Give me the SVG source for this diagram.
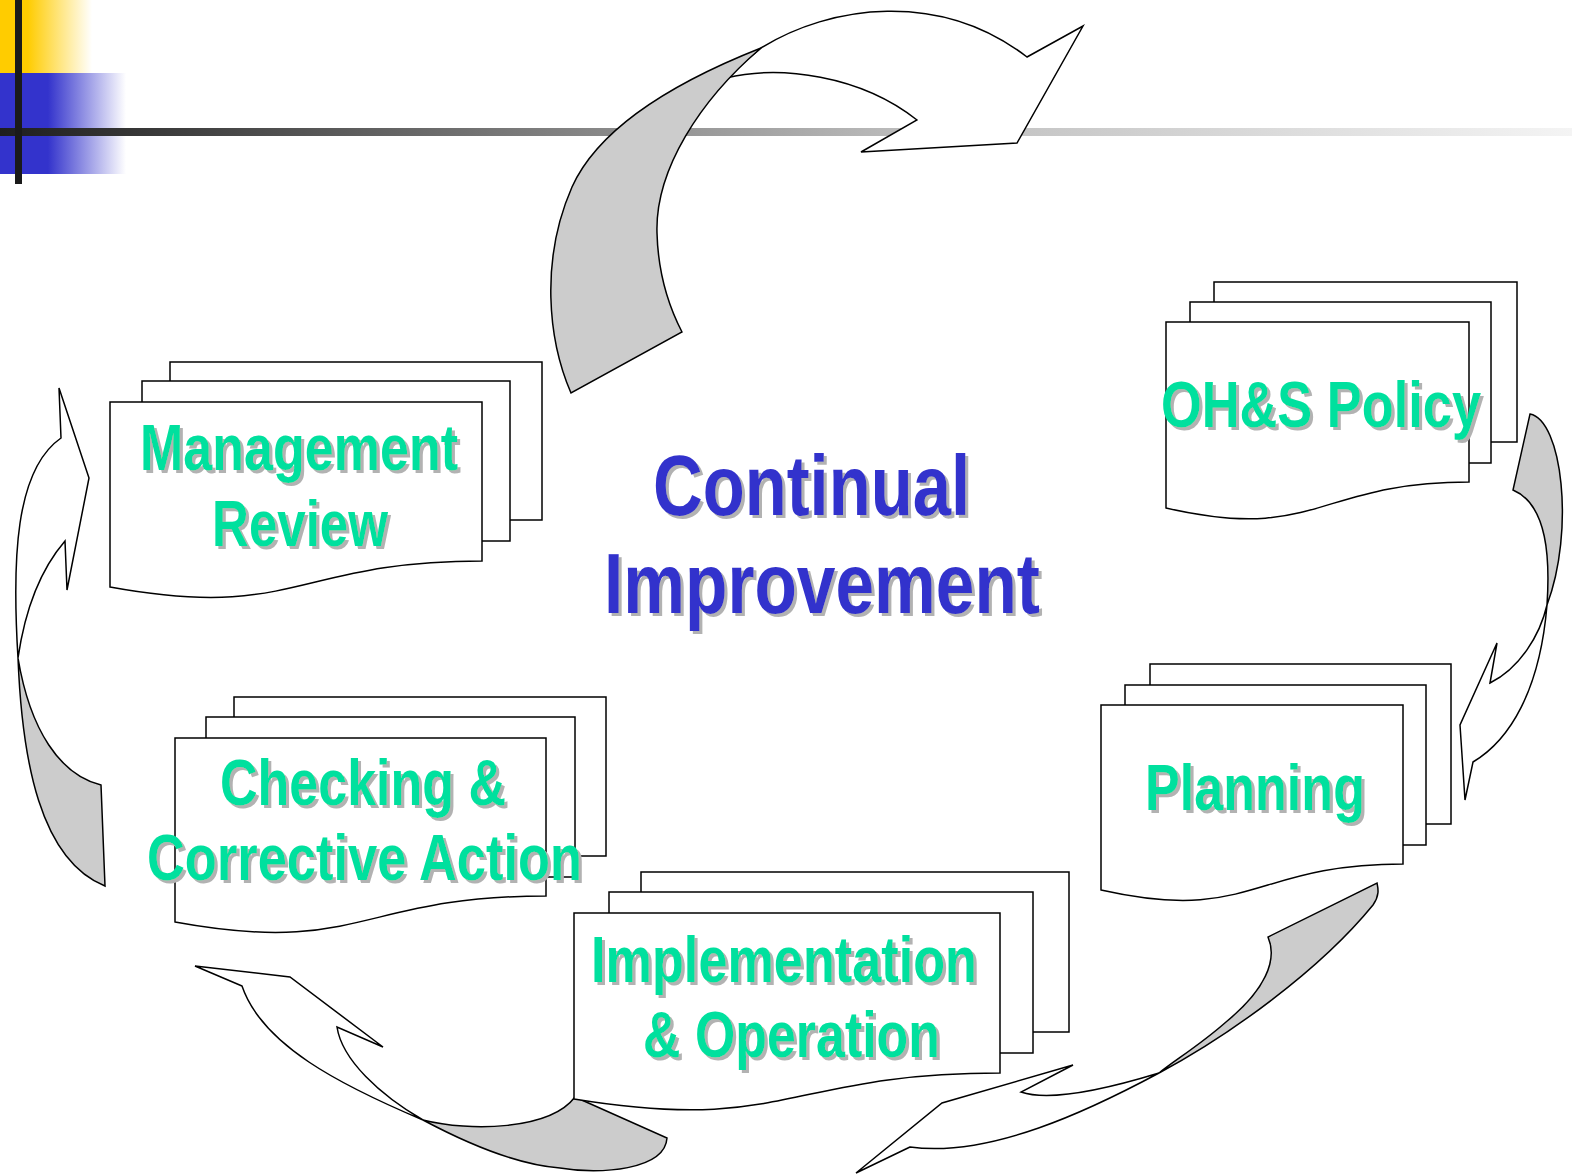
<svg xmlns="http://www.w3.org/2000/svg" width="1572" height="1175" viewBox="0 0 1572 1175">
<style>
.pg{fill:#fff;stroke:#000;stroke-width:1.5;stroke-linejoin:miter}
.aw{fill:#fff;stroke:#000;stroke-width:1.5;stroke-linejoin:miter}
.ag{fill:#ccc;stroke:#000;stroke-width:1.5;stroke-linejoin:miter}
.lbl{font-family:"Liberation Sans",Arial,sans-serif;font-weight:bold;font-size:64px;fill:#00E09E;text-anchor:middle;filter:url(#sh)}
.ci{font-family:"Liberation Sans",Arial,sans-serif;font-weight:bold;font-size:86px;fill:#3333CC;text-anchor:middle;filter:url(#sh)}
</style>
<defs>
<linearGradient id="gy" x1="0" y1="0" x2="1" y2="0"><stop offset="0" stop-color="#FFCC00"/><stop offset="0.3" stop-color="#FFCC00"/><stop offset="1" stop-color="#FFFFFF"/></linearGradient>
<linearGradient id="gb" x1="0" y1="0" x2="1" y2="0"><stop offset="0" stop-color="#3333CC"/><stop offset="0.38" stop-color="#3333CC"/><stop offset="1" stop-color="#FFFFFF"/></linearGradient>
<linearGradient id="gh" x1="0" y1="0" x2="1" y2="0"><stop offset="0" stop-color="#1e1e1e"/><stop offset="0.25" stop-color="#646464"/><stop offset="0.57" stop-color="#bbbbbb"/><stop offset="1" stop-color="#f4f4f4"/></linearGradient>
<filter id="sh" x="-5%" y="-10%" width="110%" height="130%"><feDropShadow dx="3" dy="3" stdDeviation="0" flood-color="#B2B2B2" flood-opacity="1"/></filter>
</defs>

<g id="decoration">
<rect x="0" y="0" width="92" height="74" fill="url(#gy)"/>
<rect x="0" y="73" width="126" height="101" fill="url(#gb)"/>
<rect x="0" y="128" width="1572" height="8" fill="url(#gh)"/>
<rect x="15" y="0" width="7" height="184" fill="#1a1a1a"/>
</g>

<g id="connectors">
<g id="arrow-top">
<path class="aw" d="M761,48 C830,5 940,-10 1027,57 L1083,26 L1017,143 L861,152 L917,120 C860,75 780,65 726,78 Z"/>
<path class="ag" d="M571,393 C548,340 540,260 572,187 C600,125 680,80 761,48 C700,100 655,170 657,233 C658,270 668,305 682,332 Z"/>
</g>
<g id="arrow-right">
<path class="aw" d="M1547,605 C1540,635 1520,668 1490,683 L1497,643 L1460,725 L1465,800 L1473,762 C1510,740 1540,690 1547,605 Z"/>
<path class="ag" d="M1530,414 C1562,420 1575,530 1547,605 C1550,560 1548,505 1513,490 Z"/>
</g>
<g id="arrow-bottom-right">
<path class="aw" d="M910,1147 L856,1173 L942,1103 L1073,1065 L1021,1092 C1050,1102 1110,1088 1159,1073 C1090,1110 990,1158 910,1147 Z"/>
<path class="ag" d="M1159,1073 C1230,1035 1320,970 1373,905 C1380,895 1378,888 1377,883 L1268,937 C1278,960 1265,990 1226,1022 C1200,1045 1175,1060 1159,1073 Z"/>
</g>
<g id="arrow-bottom-left">
<path class="aw" d="M242,986 L195,966 L290,977 L383,1047 L337,1027 C342,1060 380,1095 423,1120 C340,1085 262,1045 242,986 Z"/>
<path class="ag" d="M423,1120 C470,1132 550,1130 575,1097 L667,1138 C665,1170 600,1175 560,1168 C520,1165 470,1145 423,1120 Z"/>
</g>
<g id="arrow-left">
<path class="aw" d="M18,658 C12,560 15,470 61,438 L59,388 L89,478 L67,590 L65,541 C40,570 25,610 18,658 Z"/>
<path class="ag" d="M18,658 C22,760 40,860 105,886 L101,785 C60,775 30,730 18,658 Z"/>
</g>
</g>

<g id="node-management-review">
<rect class="pg" x="170" y="362" width="372" height="158"/>
<rect class="pg" x="142" y="381" width="368" height="160"/>
<path class="pg" d="M110,402 L482,402 L482,561 C296,561 296,621 110,587 Z"/>
<text class="lbl" x="299" y="470" textLength="318" lengthAdjust="spacingAndGlyphs">Management</text>
<text class="lbl" x="300" y="546" textLength="176" lengthAdjust="spacingAndGlyphs">Review</text>
</g>

<g id="node-ohs-policy">
<rect class="pg" x="1214" y="282" width="303" height="160"/>
<rect class="pg" x="1190" y="302" width="301" height="161"/>
<path class="pg" d="M1166,322 L1469,322 L1469,482 C1317,482 1317,543 1166,508 Z"/>
<text class="lbl" x="1321" y="427" textLength="320" lengthAdjust="spacingAndGlyphs">OH&amp;S Policy</text>
</g>

<g id="node-planning">
<rect class="pg" x="1150" y="664" width="301" height="160"/>
<rect class="pg" x="1125" y="685" width="301" height="160"/>
<path class="pg" d="M1101,705 L1403,705 L1403,864 C1252,864 1252,924 1101,890 Z"/>
<text class="lbl" x="1255" y="810" textLength="220" lengthAdjust="spacingAndGlyphs">Planning</text>
</g>

<g id="node-implementation">
<rect class="pg" x="641" y="872" width="428" height="160"/>
<rect class="pg" x="609" y="892" width="424" height="161"/>
<path class="pg" d="M574,913 L1000,913 L1000,1073 C787,1073 787,1134 574,1099 Z"/>
<text class="lbl" x="784" y="982" textLength="386" lengthAdjust="spacingAndGlyphs">Implementation</text>
<text class="lbl" x="791.5" y="1057" textLength="297" lengthAdjust="spacingAndGlyphs">&amp; Operation</text>
</g>

<g id="node-checking">
<rect class="pg" x="234" y="697" width="372" height="159"/>
<rect class="pg" x="206" y="717" width="369" height="160"/>
<path class="pg" d="M175,738 L546,738 L546,896 C360,896 360,956 175,922 Z"/>
<text class="lbl" x="363" y="805" textLength="286" lengthAdjust="spacingAndGlyphs">Checking &amp;</text>
<text class="lbl" x="364.5" y="880" textLength="435" lengthAdjust="spacingAndGlyphs">Corrective Action</text>
</g>

<g id="node-continual-improvement">
<text class="ci" x="811.5" y="515" textLength="317" lengthAdjust="spacingAndGlyphs">Continual</text>
<text class="ci" x="822" y="613" textLength="436" lengthAdjust="spacingAndGlyphs">Improvement</text>
</g>
</svg>
